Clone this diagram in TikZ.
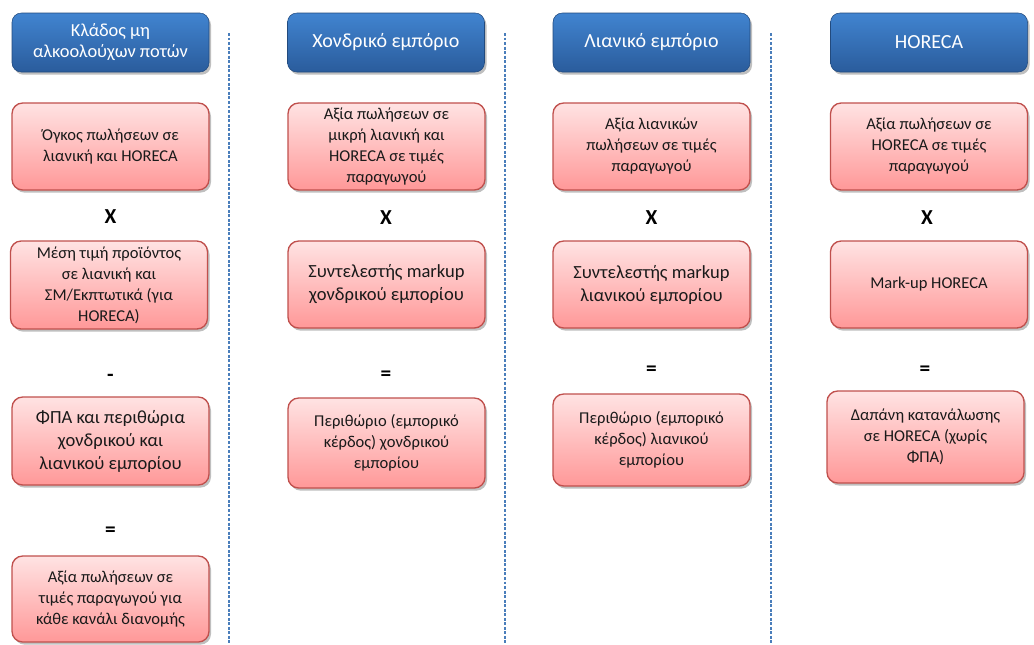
\documentclass[tikz,border=0pt]{standalone}
\usepackage{fontspec}
\setmainfont{Carlito}
\usetikzlibrary{shadows}
\definecolor{pinktop}{HTML}{FFE3E3}
\definecolor{pinkbot}{HTML}{FF9898}
\definecolor{pinkline}{HTML}{C0504D}
\definecolor{bluetop}{HTML}{4184D0}
\definecolor{bluebot}{HTML}{2A5C9C}
\definecolor{dashblue}{HTML}{4A7EBB}
\definecolor{txt}{HTML}{1A1A1A}
\tikzset{
  hdr/.style={rectangle, rounded corners=7pt, minimum width=147.75pt, minimum height=44.25pt,
    top color=bluetop, bottom color=bluebot, draw=bluebot!80!black, line width=0.4pt,
    text=white, align=center, font=\fontsize{15}{16}\selectfont,
    drop shadow={shadow xshift=1.5pt, shadow yshift=-2pt, fill=black, opacity=0.25}},
  pbox/.style={rectangle, rounded corners=8pt, minimum width=147.75pt, minimum height=#1,
    top color=pinktop, bottom color=pinkbot, draw=pinkline, line width=1pt,
    text=txt, align=center, font=\fontsize{12.4}{15.75}\selectfont,
    drop shadow={shadow xshift=1.5pt, shadow yshift=-2pt, fill=black, opacity=0.25}},
  pbox/.default=65.25pt,
  big/.style={font=\fontsize{13.9}{17.25}\selectfont},
  op/.style={text=black, font=\fontsize{16}{18}\selectfont\bfseries},
  sep/.style={dashblue, line width=1.1pt, dash pattern=on 2.2pt off 1.2pt}
}
\begin{document}
\begin{tikzpicture}[x=0.75pt, y=-0.75pt]
\useasboundingbox (0,0) rectangle (1034,644);
% separators
\coordinate (s1t) at (229,33); \coordinate (s1b) at (229,644);
\coordinate (s2t) at (505,33); \coordinate (s2b) at (505,644);
\coordinate (s3t) at (771,33); \coordinate (s3b) at (771,644);
\draw[sep] (s1t) -- (s1b);
\draw[sep] (s2t) -- (s2b);
\draw[sep] (s3t) -- (s3b);
% column 1
\node[hdr, font=\fontsize{13.8}{15.75}\selectfont] (h1) at (110.5,42.5) {Κλάδος μη\\αλκοολούχων ποτών};
\node[pbox] (a1) at (110.5,146.5) {Όγκος πωλήσεων σε\\λιανική και HORECA};
\node[op] (a1x) at (110.5,217) {X};
\node[pbox=66pt] (a2) at (109,285) {Μέση τιμή προϊόντος\\σε λιανική και\\ΣΜ/Εκπτωτικά (για\\HORECA)};
\node[op] (a2m) at (110.5,378) {-};
\node[pbox=66pt, big] (a3) at (110.5,441) {ΦΠΑ και περιθώρια\\χονδρικού και\\λιανικού εμπορίου};
\node[op] (a3e) at (110.5,532) {=};
\node[pbox=64.5pt] (a4) at (110.5,599) {Αξία πωλήσεων σε\\τιμές παραγωγού για\\κάθε κανάλι διανομής};
% column 2
\node[hdr] (h2) at (386,42.5) {Χονδρικό εμπόριο};
\node[pbox] (b1) at (386.5,146.5) {Αξία πωλήσεων σε\\μικρή λιανική και\\HORECA σε τιμές\\παραγωγού};
\node[op] (b1x) at (386,218) {X};
\node[pbox, big] (b2) at (386.5,284.5) {Συντελεστής markup\\χονδρικού εμπορίου};
\node[op] (b2e) at (386,376) {=};
\node[pbox=67.5pt] (b3) at (386.5,443) {Περιθώριο (εμπορικό\\κέρδος) χονδρικού\\εμπορίου};
% column 3
\node[hdr] (h3) at (651.5,42.5) {Λιανικό εμπόριο};
\node[pbox] (c1) at (651.5,146.5) {Αξία λιανικών\\πωλήσεων σε τιμές\\παραγωγού};
\node[op] (c1x) at (651.5,218) {X};
\node[pbox, big] (c2) at (651.5,284.5) {Συντελεστής markup\\λιανικού εμπορίου};
\node[op] (c2e) at (651.5,371) {=};
\node[pbox=69pt] (c3) at (651.5,440) {Περιθώριο (εμπορικό\\κέρδος) λιανικού\\εμπορίου};
% column 4
\node[hdr] (h4) at (929,42.5) {HORECA};
\node[pbox] (d1) at (929,146.5) {Αξία πωλήσεων σε\\HORECA σε τιμές\\παραγωγού};
\node[op] (d1x) at (927,218) {X};
\node[pbox] (d2) at (929,284.5) {Mark-up HORECA};
\node[op] (d2e) at (925,371) {=};
\node[pbox=69pt] (d3) at (925.5,437) {Δαπάνη κατανάλωσης\\σε HORECA (χωρίς\\ΦΠΑ)};
\end{tikzpicture}
\end{document}
